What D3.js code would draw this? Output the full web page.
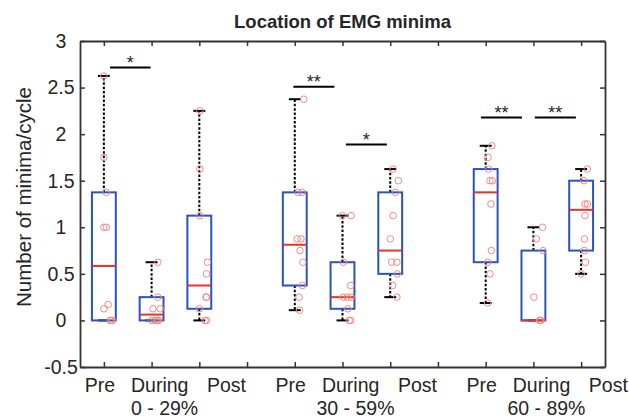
<!DOCTYPE html>
<html><head><meta charset="utf-8">
<script src="https://cdn.jsdelivr.net/npm/d3@7"></script>
<style>
html,body{margin:0;padding:0;background:#fff;}
text{font-family:"Liberation Sans",Arial,Helvetica,sans-serif;fill:#262626;}
</style></head>
<body><svg id="chart" width="629" height="419"></svg>
<script>
// ---- data ----
const conditions = ["Pre", "During", "Post"];
const groups = ["0 - 29%", "30 - 59%", "60 - 89%"];
const positions = [1, 2, 3, 5, 6, 7, 9, 10, 11];
const yTicks = [-0.5, 0, 0.5, 1, 1.5, 2, 2.5, 3];
const xTicks = [1, 2, 3, 4, 5, 6, 7, 8, 9, 10, 11];

const q1 =        [0,     0,      0.125, 0.375,  0.125, 0.5,   0.625,  0,    0.75];
const medians =   [0.585, 0.0625, 0.375, 0.8125, 0.25,  0.75,  1.375,  0,    1.1875];
const q3 =        [1.375, 0.25,   1.125, 1.375,  0.625, 1.375, 1.625,  0.75, 1.5];
const whiskerLo = [0,     0,      0,     0.11,   0,     0.25,  0.1875, 0,    0.5];
const whiskerHi = [2.625, 0.625,  2.25,  2.375,  1.125, 1.625, 1.875,  1.0,  1.625];

const pointValues = [
  [2.625, 1.75, 1.375, 1.0, 1.0, 0.17, 0.125, 0, 0, 0],
  [0.625, 0.25, 0.125, 0.125, 0, 0, 0, 0, 0],
  [2.25, 1.625, 1.125, 0.625, 0.5, 0.25, 0.25, 0.125, 0, 0],
  [2.375, 1.375, 1.375, 0.875, 0.875, 0.75, 0.625, 0.375, 0.25, 0.11],
  [1.125, 1.125, 0.625, 0.375, 0.25, 0.25, 0.25, 0.125, 0, 0],
  [1.625, 1.5, 1.375, 1.125, 0.875, 0.625, 0.625, 0.5, 0.375, 0.25],
  [1.875, 1.75, 1.625, 1.5, 1.5, 1.25, 0.75, 0.625, 0.5, 0.1875],
  [1.0, 0.875, 0.75, 0.25, 0, 0, 0],
  [1.625, 1.5, 1.25, 1.25, 1.125, 0.875, 0.75, 0.625, 0.5]
];
const pointJitter = [
  [0, 0, 0.05, 0, 0.05, 0.09, 0, 0.13, 0.18, 0.16],
  [0.13, 0.13, 0.03, 0.18, 0, 0.06, 0.1, 0.15, 0.12],
  [0.01, 0.01, 0.01, 0.17, 0.15, 0.14, 0.15, 0, 0.12, 0.15],
  [0.19, 0.07, 0.15, 0.05, 0.13, 0.11, 0.17, 0.16, 0.09, 0.1],
  [0, 0.18, 0.02, 0.17, 0.02, 0.1, 0.18, 0.11, 0.14, 0.17],
  [0.06, 0.17, 0.11, 0.06, 0, 0.03, 0.14, 0.15, 0.05, 0.14],
  [0.13, 0.05, 0.06, 0.09, 0.14, 0.11, 0.12, 0.04, 0.09, 0.04],
  [0.19, 0.06, 0.2, 0.01, 0.13, 0.16, 0.14],
  [0.13, 0.06, 0.08, 0.13, 0.08, 0.07, 0.07, 0.09, 0]
];

const sigStart = [1.13, 4.97, 6.07, 8.9, 10.03];
const sigEnd =   [1.98, 5.83, 6.93, 9.76, 10.89];
const sigLevel = [2.715, 2.51, 1.888, 2.178, 2.178];
const sigLabel = ["*", "**", "*", "**", "**"];

const title = "Location of EMG minima";
const yLabel = "Number of minima/cycle";

// ---- layout ----
const svg = d3.select("#chart");
svg.append("rect").attr("width", 629).attr("height", 419).attr("fill", "#fff");
const L = 80, R = 605, T = 41, B = 367;
const x = d3.scaleLinear().domain([0.5, 11.5]).range([L, R]);
const y = d3.scaleLinear().domain([-0.5, 3]).range([B, T]);
const axisColor = "#333";
const blue = "#2c52bd", red = "#e5322a", ptColor = "#f28b86";
const boxHalf = 0.25, capHalf = 0.125;
const labelShift = [-0.085, 0.17, 0.57]; // word placement relative to each box position

// axes (box style with inward ticks)
const tickLen = 5;
const axB = svg.append("g").attr("transform", `translate(0,${B})`)
  .call(d3.axisBottom(x).tickValues(xTicks).tickSizeInner(-tickLen).tickSizeOuter(0).tickFormat(""));
const axT = svg.append("g").attr("transform", `translate(0,${T})`)
  .call(d3.axisTop(x).tickValues(xTicks).tickSizeInner(-tickLen).tickSizeOuter(0).tickFormat(""));
const axL = svg.append("g").attr("transform", `translate(${L},0)`)
  .call(d3.axisLeft(y).tickValues(yTicks).tickSizeInner(-tickLen).tickSizeOuter(0).tickFormat(""));
const axR = svg.append("g").attr("transform", `translate(${R},0)`)
  .call(d3.axisRight(y).tickValues(yTicks).tickSizeInner(-tickLen).tickSizeOuter(0).tickFormat(""));
[axB, axT, axL, axR].forEach(g => {
  g.selectAll("path.domain").attr("stroke", axisColor).attr("stroke-width", 1.8);
  g.selectAll(".tick line").attr("stroke", axisColor).attr("stroke-width", 1.5);
});

// y tick labels
svg.append("g").selectAll("text").data(yTicks).join("text")
  .attr("x", 61).attr("y", d => y(d)).attr("dy", "0.35em")
  .attr("text-anchor", "middle").attr("font-size", 19.5)
  .text(d => String(d));

// x labels (condition words under each box)
svg.append("g").selectAll("text").data(positions).join("text")
  .attr("x", (d, i) => x(d + labelShift[i % 3])).attr("y", 392)
  .attr("text-anchor", "middle").attr("font-size", 19.5)
  .text((d, i) => conditions[i % 3]);
const groupMid = [2, 6, 10];
svg.append("g").selectAll("text").data(groups).join("text")
  .attr("x", (d, i) => x(groupMid[i]) + 13).attr("y", 414.5)
  .attr("text-anchor", "middle").attr("font-size", 19.5)
  .text(d => d);

// title & y label
svg.append("text").attr("x", (L + R) / 2).attr("y", 28).attr("text-anchor", "middle")
  .attr("font-size", 18.5).attr("font-weight", "bold").attr("fill", "#000").text(title);
svg.append("text").attr("transform", "translate(31,197) rotate(-90)")
  .attr("text-anchor", "middle").attr("font-size", 20.5).text(yLabel);

// boxes
const boxes = svg.append("g").selectAll("g").data(positions).join("g");
boxes.append("line").attr("x1", d => x(d)).attr("x2", d => x(d))
  .attr("y1", (d, i) => y(q3[i])).attr("y2", (d, i) => y(whiskerHi[i]))
  .attr("stroke", "#000").attr("stroke-width", 2).attr("stroke-dasharray", "2.5,1.8");
boxes.append("line").attr("x1", d => x(d)).attr("x2", d => x(d))
  .attr("y1", (d, i) => y(q1[i])).attr("y2", (d, i) => y(whiskerLo[i]))
  .attr("stroke", "#000").attr("stroke-width", 2).attr("stroke-dasharray", "2.5,1.8");
boxes.append("line").attr("x1", d => x(d - capHalf)).attr("x2", d => x(d + capHalf))
  .attr("y1", (d, i) => y(whiskerHi[i])).attr("y2", (d, i) => y(whiskerHi[i]))
  .attr("stroke", "#000").attr("stroke-width", 2);
boxes.append("line").attr("x1", d => x(d - capHalf)).attr("x2", d => x(d + capHalf))
  .attr("y1", (d, i) => y(whiskerLo[i])).attr("y2", (d, i) => y(whiskerLo[i]))
  .attr("stroke", "#000").attr("stroke-width", 2);
boxes.append("rect").attr("x", d => x(d - boxHalf)).attr("width", x(1 + 2 * boxHalf) - x(1))
  .attr("y", (d, i) => y(q3[i])).attr("height", (d, i) => y(q1[i]) - y(q3[i]))
  .attr("fill", "none").attr("stroke", blue).attr("stroke-width", 2);
boxes.append("line").attr("x1", d => x(d - boxHalf)).attr("x2", d => x(d + boxHalf))
  .attr("y1", (d, i) => y(medians[i])).attr("y2", (d, i) => y(medians[i]))
  .attr("stroke", red).attr("stroke-width", 2);

// points
positions.forEach((p, i) => {
  svg.append("g").selectAll("circle").data(pointValues[i]).join("circle")
    .attr("cx", (v, j) => x(p + pointJitter[i][j])).attr("cy", v => y(v))
    .attr("r", 3.3).attr("fill", "none").attr("stroke", ptColor).attr("stroke-width", 1);
});

// significance bars
const sig = svg.append("g").selectAll("g").data(sigStart).join("g");
sig.append("line").attr("x1", d => x(d)).attr("x2", (d, i) => x(sigEnd[i]))
  .attr("y1", (d, i) => y(sigLevel[i])).attr("y2", (d, i) => y(sigLevel[i]))
  .attr("stroke", "#000").attr("stroke-width", 2);
sig.append("text").attr("x", (d, i) => (x(d) + x(sigEnd[i])) / 2)
  .attr("y", (d, i) => y(sigLevel[i]) + 1).attr("text-anchor", "middle")
  .attr("font-size", 18).attr("fill", "#333").text((d, i) => sigLabel[i]);
</script></body></html>
